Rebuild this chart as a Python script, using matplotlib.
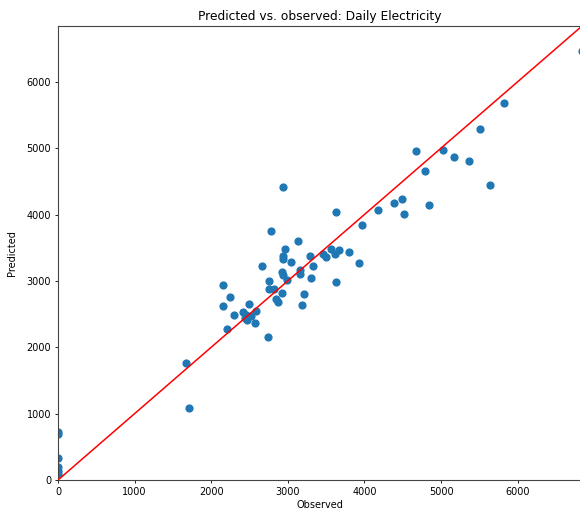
import matplotlib
matplotlib.use("Agg")
import matplotlib.pyplot as plt

observed = [
    0, 0, 0, 0, 0, 0,
    1675, 1715,
    2932, 3630, 4180, 3970, 2779, 3137, 2962, 2940, 2940, 3045, 2657,
    3290, 3329, 3455, 3499, 3560, 3617, 3669, 3796, 3935, 3630,
    2919, 2936, 3163, 3154, 2988, 3302, 2752, 2757, 2823, 2919, 3207,
    2840, 2866, 3181, 2151, 2251, 2151, 2496, 2291, 2412, 2452, 2470,
    2513, 2435, 2579, 2565, 2207, 2740,
    5820, 5506, 4669, 5026, 5166, 5366, 4795, 5641, 4381, 4494, 4847,
    4520, 6840,
]
predicted = [
    730, 690, 330, 190, 140, 90,
    1760, 1080,
    4415, 4033, 4063, 3843, 3752, 3606, 3480, 3379, 3329, 3278, 3228,
    3369, 3228, 3409, 3353, 3480, 3409, 3469, 3429, 3273, 2976,
    3127, 3092, 3157, 3107, 3006, 3036, 2991, 2876, 2885, 2816, 2801,
    2730, 2680, 2644, 2941, 2755, 2614, 2659, 2488, 2538, 2488, 2412,
    2470, 2438, 2548, 2362, 2272, 2155,
    5686, 5293, 4950, 4965, 4864, 4804, 4648, 4441, 4175, 4240, 4139,
    4014, 6460,
]
title = "Predicted vs. observed: Daily Electricity"
x_label = "Observed"
y_label = "Predicted"

W, H = 580, 511
fig = plt.figure(figsize=(W / 100, H / 100), dpi=100)
ax = fig.add_axes([58 / W, 31 / H, 524 / W, 454 / H])

lim = max(observed)
ax.scatter(observed, predicted, s=24, color="#1f77b4", zorder=2)
ax.plot([0, lim], [0, lim], color="red", linewidth=1.1, zorder=3)
ax.set_xlim(0, lim)
ax.set_ylim(0, lim)
ax.set_xticks([0, 1000, 2000, 3000, 4000, 5000, 6000])
ax.set_yticks([0, 1000, 2000, 3000, 4000, 5000, 6000])

ax.set_title(title, fontsize=8.8, pad=4.5)
ax.set_xlabel(x_label, fontsize=7, labelpad=2)
ax.set_ylabel(y_label, fontsize=7, labelpad=7)
ax.tick_params(labelsize=7, length=2.5, width=0.6, pad=2.5)
for sp in ax.spines.values():
    sp.set_linewidth(0.8)
    sp.set_color("#444444")

fig.savefig("out.png", dpi=100)
